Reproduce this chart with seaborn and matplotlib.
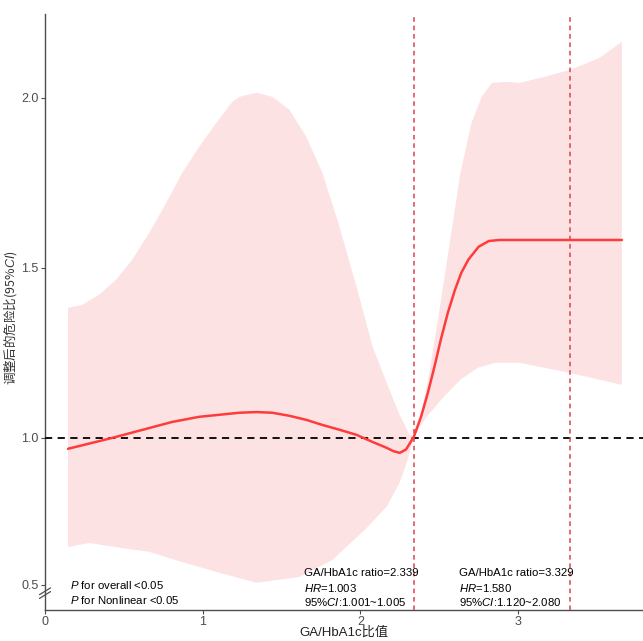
import numpy as np
import pandas as pd
import matplotlib
matplotlib.use("Agg")
import matplotlib.pyplot as plt
import seaborn as sns

# ---- data ----
hr_x = [0.146, 0.426, 0.807, 0.978, 1.233, 1.341, 1.442, 1.550, 1.658, 1.760, 1.868, 1.976,
        2.078, 2.166, 2.210, 2.250, 2.290, 2.339, 2.385, 2.428, 2.470, 2.510, 2.555, 2.600, 2.640,
        2.685, 2.750, 2.815, 2.884, 3.300, 3.659]
hr_y = [0.968, 1.000, 1.047, 1.062, 1.074, 1.076, 1.074, 1.065, 1.053, 1.038, 1.024, 1.009,
        0.988, 0.971, 0.961, 0.956, 0.966, 1.003, 1.062, 1.132, 1.209, 1.288, 1.368, 1.435, 1.485,
        1.524, 1.562, 1.579, 1.582, 1.582, 1.582]

up_x = [0.146, 0.235, 0.343, 0.451, 0.553, 0.661, 0.769, 0.870, 0.978, 1.086, 1.188, 1.233,
        1.341, 1.442, 1.550, 1.658, 1.760, 1.868, 1.976, 2.078, 2.185, 2.249, 2.310, 2.339,
        2.380, 2.430, 2.505, 2.570, 2.635, 2.705, 2.770, 2.835, 2.929, 3.011, 3.170, 3.329,
        3.520, 3.659]
up_y = [1.382, 1.391, 1.421, 1.465, 1.524, 1.603, 1.691, 1.779, 1.856, 1.926, 1.988, 2.003,
        2.015, 2.003, 1.965, 1.885, 1.779, 1.621, 1.444, 1.268, 1.141, 1.068, 1.012, 1.003,
        1.060, 1.170, 1.385, 1.582, 1.779, 1.926, 2.003, 2.044, 2.047, 2.044, 2.062, 2.082,
        2.118, 2.165]

lo_x = [0.146, 0.280, 0.489, 0.661, 0.870, 1.086, 1.341, 1.614, 1.823, 2.027, 2.166, 2.249,
        2.300, 2.339, 2.420, 2.530, 2.635, 2.745, 2.855, 3.011, 3.329, 3.659]
lo_y = [0.679, 0.691, 0.676, 0.665, 0.635, 0.606, 0.574, 0.591, 0.641, 0.729, 0.797, 0.868,
        0.935, 1.003, 1.062, 1.121, 1.171, 1.206, 1.221, 1.221, 1.191, 1.156]

knots = [2.339, 3.329]
knot_hr = ["1.003", "1.580"]
knot_ci = ["1.001~1.005", "1.120~2.080"]

xticks = [0, 1, 2, 3]
yticks = [0.568, 1.0, 1.5, 2.0]
ytick_labels = ["0.5", "1.0", "1.5", "2.0"]

# ---- style ----
sns.set_theme(style="white")
plt.rcParams["font.family"] = ["Liberation Sans", "Noto Sans CJK SC", "DejaVu Sans"]
plt.rcParams["mathtext.fontset"] = "custom"
plt.rcParams["mathtext.rm"] = "Liberation Sans"
plt.rcParams["mathtext.it"] = "Liberation Sans:italic"

fig = plt.figure(figsize=(6.43, 6.41), dpi=100)
ax = fig.add_axes([0.070, 0.0484, 0.930, 0.930])

grey = "#4d4d4d"
line_red = "#FF3B3B"
fill_pink = "#FDE2E4"
vred = "#D9444C"

# confidence band
ax.fill(np.concatenate([up_x, lo_x[::-1]]), np.concatenate([up_y, lo_y[::-1]]),
        color=fill_pink, lw=0, zorder=1)

# reference lines
ax.axhline(1.0, color="black", lw=1.3, ls=(0, (4, 3)), zorder=3)
for k in knots:
    ax.axvline(k, color=vred, lw=1.1, ls=(0, (3, 2.5)), zorder=3)

# HR curve
df = pd.DataFrame({"x": hr_x, "hr": hr_y})
sns.lineplot(data=df, x="x", y="hr", ax=ax, color=line_red, lw=1.8, zorder=4)

ax.set_xlim(0, 3.793)
ax.set_ylim(0.494, 2.247)
ax.set_xticks(xticks)
ax.set_xticklabels([str(t) for t in xticks])
ax.set_yticks(yticks)
ax.set_yticklabels(ytick_labels)

for side in ["top", "right"]:
    ax.spines[side].set_visible(False)
for side in ["left", "bottom"]:
    ax.spines[side].set_color(grey)
    ax.spines[side].set_linewidth(1.0)
ax.tick_params(axis="both", which="both", direction="out", length=3, width=0.8,
               color=grey, labelcolor=grey, labelsize=9, pad=1.5,
               bottom=True, left=True)

ax.set_xlabel("GA/HbA1c比值", fontsize=9.5, color="#222222",
              family=["Liberation Sans", "Noto Sans CJK SC"])
ax.xaxis.set_label_coords(0.5, -0.028)
ax.set_ylabel("调整后的危险比(95%$\\mathit{CI}$)", fontsize=9, color="#333333",
              family=["Noto Sans CJK SC"])
ax.yaxis.set_label_coords(-0.043, 0.49)

# axis break mark
for dy in (0.0, 0.011):
    ax.plot([-0.035, 0.035], [0.528 + dy, 0.548 + dy], color=grey, lw=0.9,
            clip_on=False, zorder=5)

# annotation texts
fs = 8.2
ax.text(0.16, 0.568, "$\\mathit{P}$ for overall <0.05", fontsize=fs, va="center", ha="left", color="black")
ax.text(0.16, 0.524, "$\\mathit{P}$ for Nonlinear <0.05", fontsize=fs, va="center", ha="left", color="black")
for k, xpos, hr, ci in zip(knots, [1.64, 2.625], knot_hr, knot_ci):
    ax.text(xpos, 0.603, f"GA/HbA1c ratio={k:.3f}", fontsize=fs, va="center", ha="left", color="black")
    ax.text(xpos, 0.560, f"$\\mathit{{HR}}$={hr}", fontsize=fs, va="center", ha="left", color="black")
    ax.text(xpos, 0.518, f"95%$\\mathit{{CI}}$:{ci}", fontsize=fs, va="center", ha="left", color="black")

fig.savefig("out.png", dpi=100, facecolor="white")
